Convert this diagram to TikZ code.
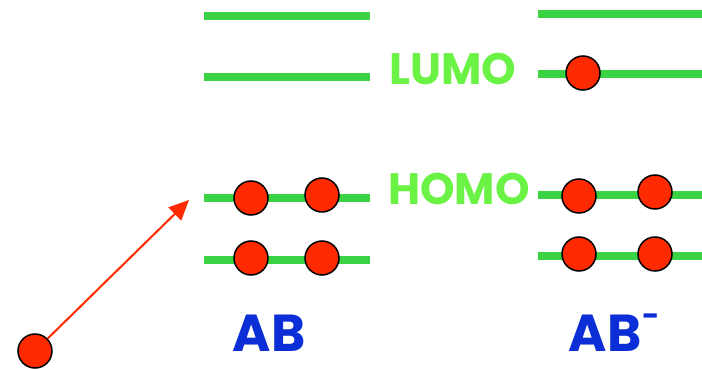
\documentclass[tikz,border=0pt]{standalone}
\usepackage{fontspec}
\setmainfont{Poppins}
\usetikzlibrary{arrows.meta}
\definecolor{levelgreen}{HTML}{3AD344}
\definecolor{labelgreen}{HTML}{6AF244}
\definecolor{elecred}{HTML}{FF2A00}
\definecolor{molblue}{HTML}{0B2ED6}
\tikzset{
  level/.style={draw=levelgreen, line width=8pt},
  electron/.style={circle, draw=black, line width=1.5pt, fill=elecred, minimum size=34pt, inner sep=0pt},
  orblabel/.style={text=labelgreen, font=\fontsize{44}{44}\selectfont\bfseries, inner sep=0pt},
  mollabel/.style={text=molblue, font=\fontsize{52}{52}\selectfont\bfseries, inner sep=0pt}
}
\begin{document}
\begin{tikzpicture}[x=1pt,y=-1pt]
\useasboundingbox (0,0) rectangle (702,369);
% energy levels of AB
\coordinate (a1l) at (204,16);  \coordinate (a1r) at (370,16);
\coordinate (a2l) at (204,77);  \coordinate (a2r) at (370,77);
\coordinate (a3l) at (204,198); \coordinate (a3r) at (370,198);
\coordinate (a4l) at (204,260); \coordinate (a4r) at (370,260);
\draw[level] (a1l) -- (a1r);
\draw[level] (a2l) -- (a2r);
\draw[level] (a3l) -- (a3r);
\draw[level] (a4l) -- (a4r);
% energy levels of AB-
\coordinate (b1l) at (538,14);  \coordinate (b1r) at (702,14);
\coordinate (b2l) at (538,74);  \coordinate (b2r) at (702,74);
\coordinate (b3l) at (538,195); \coordinate (b3r) at (702,195);
\coordinate (b4l) at (538,256); \coordinate (b4r) at (702,256);
\draw[level] (b1l) -- (b1r);
\draw[level] (b2l) -- (b2r);
\draw[level] (b3l) -- (b3r);
\draw[level] (b4l) -- (b4r);
% electrons
\node[electron] (ea1) at (251,198) {};
\node[electron] (ea2) at (322,195) {};
\node[electron] (ea3) at (251,258) {};
\node[electron] (ea4) at (322,258) {};
\node[electron] (eb0) at (583,73) {};
\node[electron] (eb1) at (579,196) {};
\node[electron] (eb2) at (655,192) {};
\node[electron] (eb3) at (579,254) {};
\node[electron] (eb4) at (655,254) {};
\node[electron] (efree) at (35,351) {};
% incoming electron
\coordinate (tip) at (189,200);
\draw[elecred, line width=2pt, -{Triangle[length=20pt,width=18pt]}] (efree) -- (tip);
% labels
\node[orblabel] (lumo) at (453,69) {LUMO};
\node[orblabel] (homo) at (459,189) {HOMO};
\node[mollabel] (ab) at (269,333) {AB};
\node[mollabel] (abm) at (605,333) {AB};
\node[text=molblue, font=\fontsize{30}{30}\selectfont\bfseries, inner sep=0pt] (minus) at (651,320) {-};
\end{tikzpicture}
\end{document}
